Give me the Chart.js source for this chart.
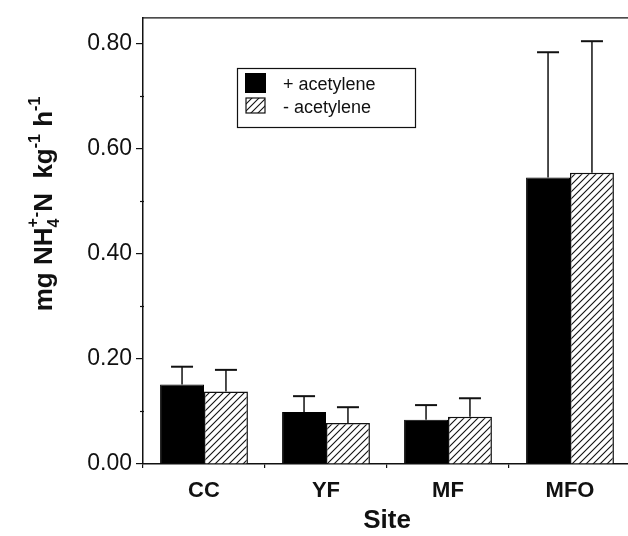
<!DOCTYPE html>
<html>
<head>
<meta charset="utf-8">
<script src="https://cdn.jsdelivr.net/npm/chart.js@4.4.1/dist/chart.umd.min.js"></script>
<style>
  html, body { margin: 0; padding: 0; background: #fff; overflow: hidden; }
  #wrap { width: 640px; height: 536px; }
</style>
</head>
<body>
<div id="wrap"><canvas id="chart" width="640" height="536"></canvas></div>
<script>
const sites = ['CC', 'YF', 'MF', 'MFO'];
const plusAcetylene = [0.151, 0.099, 0.084, 0.545];
const plusErr = [0.034, 0.030, 0.028, 0.238];
const minusAcetylene = [0.138, 0.078, 0.090, 0.554];
const minusErr = [0.041, 0.030, 0.035, 0.250];
const yTicks = [0, 0.2, 0.4, 0.6, 0.8];
const yMinorTicks = [0.1, 0.3, 0.5, 0.7];

const FONT = '"Liberation Sans", Arial, Helvetica, sans-serif';

function hatchPattern() {
    const c = document.createElement('canvas');
    c.width = 7; c.height = 7;
    const g = c.getContext('2d');
    g.fillStyle = '#fff';
    g.fillRect(0, 0, 7, 7);
    g.strokeStyle = '#111';
    g.lineWidth = 1.1;
    g.beginPath();
    g.moveTo(-1, 8); g.lineTo(8, -1);
    g.moveTo(-1, 1); g.lineTo(1, -1);
    g.moveTo(6, 8); g.lineTo(8, 6);
    g.stroke();
    return g.createPattern(c, 'repeat');
}
const hatch = hatchPattern();

const errorBars = {
    id: 'errorBars',
    afterDatasetsDraw(chart) {
        const ctx = chart.ctx;
        const y = chart.scales.y;
        const errs = [plusErr, minusErr];
        ctx.save();
        ctx.strokeStyle = '#111';
        chart.data.datasets.forEach((ds, i) => {
            chart.getDatasetMeta(i).data.forEach((bar, j) => {
                const top = y.getPixelForValue(ds.data[j] + errs[i][j]);
                ctx.lineWidth = 1.5;
                ctx.beginPath();
                ctx.moveTo(bar.x, bar.y);
                ctx.lineTo(bar.x, top);
                ctx.stroke();
                ctx.lineWidth = 2;
                ctx.beginPath();
                ctx.moveTo(bar.x - 11, top);
                ctx.lineTo(bar.x + 11, top);
                ctx.stroke();
            });
        });
        ctx.restore();
    }
};

const decorations = {
    id: 'decorations',
    afterDraw(chart) {
        const ctx = chart.ctx;
        const a = chart.chartArea;
        const y = chart.scales.y;
        ctx.save();
        ctx.strokeStyle = '#111';

        // top frame line
        ctx.lineWidth = 1.2;
        ctx.beginPath();
        ctx.moveTo(a.left, a.top);
        ctx.lineTo(a.right, a.top);
        ctx.stroke();

        // minor ticks on y axis
        ctx.lineWidth = 1.2;
        yMinorTicks.forEach(v => {
            const py = Math.round(y.getPixelForValue(v)) + 0.5;
            ctx.beginPath();
            ctx.moveTo(a.left - 3, py);
            ctx.lineTo(a.left + 1, py);
            ctx.stroke();
        });

        // legend
        ctx.lineWidth = 1.2;
        ctx.strokeRect(237.5, 68.5, 178, 59);
        ctx.fillStyle = '#000';
        ctx.fillRect(245, 73, 21, 20);
        ctx.fillStyle = hatch;
        ctx.fillRect(246, 98, 19, 15);
        ctx.lineWidth = 1.2;
        ctx.strokeRect(246, 98, 19, 15);
        ctx.fillStyle = '#111';
        ctx.font = '18px ' + FONT;
        ctx.textBaseline = 'middle';
        ctx.textAlign = 'left';
        ctx.fillText(chart.data.datasets[0].label, 283, 85);
        ctx.fillText(chart.data.datasets[1].label, 283, 108);

        // x axis title
        ctx.font = 'bold 26px ' + FONT;
        ctx.textAlign = 'center';
        ctx.fillText('Site', (a.left + a.right) / 2, 521);

        // y axis title with sub/superscripts
        const big = 'bold 26px ' + FONT;
        const small = 'bold 16px ' + FONT;
        const parts = [
            { t: 'mg NH', f: big },
            { stack: ['+', '4'] },
            { t: '-', f: small, dy: -11 },
            { t: 'N  kg', f: big },
            { t: '-1', f: small, dy: -12 },
            { t: ' h', f: big },
            { t: '-1', f: small, dy: -12 }
        ];
        const widthOf = p => {
            if (p.stack) {
                ctx.font = small;
                return Math.max(ctx.measureText(p.stack[0]).width, ctx.measureText(p.stack[1]).width) + 1;
            }
            ctx.font = p.f;
            return ctx.measureText(p.t).width;
        };
        const total = parts.reduce((s, p) => s + widthOf(p), 0);
        ctx.translate(52, 204);
        ctx.rotate(-Math.PI / 2);
        ctx.textAlign = 'left';
        ctx.textBaseline = 'alphabetic';
        let x = -total / 2;
        parts.forEach(p => {
            const w = widthOf(p);
            if (p.stack) {
                ctx.font = small;
                ctx.fillText(p.stack[0], x, -14);
                ctx.fillText(p.stack[1], x, 7);
            } else {
                ctx.font = p.f;
                ctx.fillText(p.t, x, p.dy || 0);
            }
            x += w;
        });
        ctx.restore();
    }
};

new Chart(document.getElementById('chart').getContext('2d'), {
    type: 'bar',
    data: {
        labels: sites,
        datasets: [
            {
                label: '+ acetylene',
                data: plusAcetylene,
                backgroundColor: '#000',
                borderColor: '#000',
                borderWidth: 1,
            },
            {
                label: '- acetylene',
                data: minusAcetylene,
                backgroundColor: hatch,
                borderColor: '#111',
                borderWidth: 1.5,
            },
        ],
    },
    options: {
        responsive: false,
        animation: false,
        events: [],
        layout: { padding: { top: 9, right: 9, left: 0, bottom: 0 } },
        datasets: { bar: { categoryPercentage: 0.72, barPercentage: 1 } },
        plugins: { legend: { display: false }, tooltip: { enabled: false } },
        scales: {
            x: {
                afterFit: s => { s.height = 72; },
                grid: { drawOnChartArea: false, offset: true, tickLength: 4, color: '#111', lineWidth: 1.2 },
                border: { color: '#111', width: 1.5 },
                ticks: { color: '#111', padding: 10, font: { family: FONT, size: 22, weight: 'bold' } },
            },
            y: {
                min: 0,
                max: 0.8485,
                afterFit: s => { s.width = 143; },
                afterBuildTicks: s => { s.ticks = yTicks.map(v => ({ value: v })); },
                grid: { drawOnChartArea: false, tickLength: 7, color: '#111', lineWidth: 1.2 },
                border: { color: '#111', width: 1.5 },
                ticks: {
                    color: '#111',
                    padding: 4,
                    font: { family: FONT, size: 23 },
                    callback: v => v.toFixed(2),
                },
            },
        },
    },
    plugins: [errorBars, decorations],
});
</script>
</body>
</html>
